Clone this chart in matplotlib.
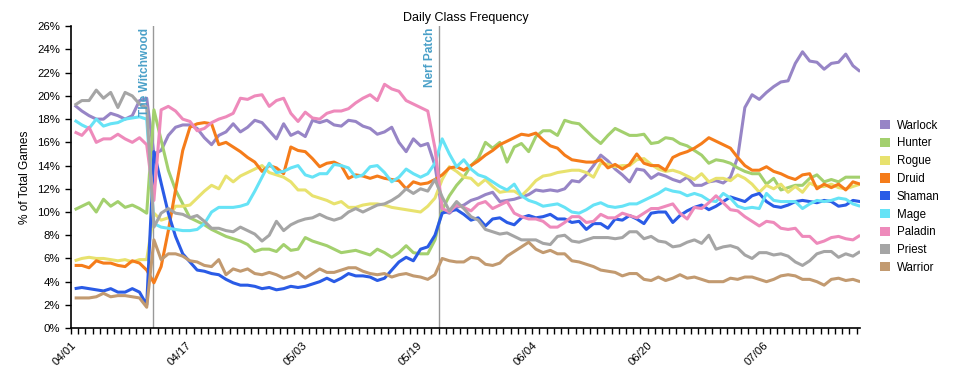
import numpy as np
import pandas as pd
import matplotlib
matplotlib.use("Agg")
import matplotlib.pyplot as plt
from matplotlib.ticker import FuncFormatter
from matplotlib.patches import Patch

plt.rcParams['font.family'] = ['Liberation Sans', 'DejaVu Sans']

# one value per day, plotted at noon
dates = pd.date_range('2018-04-01 12:00', periods=110, freq='D')

warlock = [19.2, 18.7, 18.3, 18.0, 18.0, 18.5, 18.3, 18.0, 18.3, 19.6, 19.8,
           15.0, 15.3, 16.6, 17.3, 17.5, 17.5, 17.2, 16.4, 15.8, 16.6,
           16.9, 17.6, 16.9, 17.3, 17.9, 17.7, 17.0, 16.3, 17.6, 16.6,
           16.9, 16.5, 17.9, 17.7, 17.9, 17.5, 17.4, 17.9, 17.8, 17.4,
           17.2, 16.7, 16.9, 17.3, 16.0, 15.2, 16.3, 15.7, 15.9, 14.0,
           10.1, 9.9, 10.4, 10.6, 11.0, 11.2, 11.5, 11.7, 10.9, 11.0,
           11.1, 11.3, 11.5, 11.9, 11.8, 11.9, 11.8, 12.0, 12.7, 12.6,
           13.2, 14.0, 14.9, 14.4, 13.7, 13.2, 12.6, 13.7, 13.6, 12.9,
           13.3, 13.1, 12.8, 12.6, 13.0, 12.3, 12.3, 12.6, 12.7, 12.5,
           13.0, 14.7, 19.0, 20.1, 19.7, 20.3, 20.8, 21.2, 21.3, 22.8,
           23.8, 23.0, 22.9, 22.3, 22.8, 22.9, 23.6, 22.6, 22.1]
hunter = [10.2, 10.5, 10.8, 10.0, 11.1, 10.5, 10.9, 10.4, 10.6, 10.3, 9.9,
          18.8, 16.2, 13.6, 11.9, 10.7, 9.5, 9.2, 8.9, 8.5, 8.2,
          7.9, 7.7, 7.5, 7.2, 6.6, 6.8, 6.8, 6.6, 7.2, 6.7,
          6.8, 7.8, 7.5, 7.3, 7.1, 6.8, 6.5, 6.6, 6.7, 6.5,
          6.3, 6.8, 6.5, 6.1, 6.5, 7.1, 6.5, 6.4, 6.4, 7.6,
          10.2, 11.4, 12.3, 13.0, 14.0, 14.6, 16.0, 15.5, 16.0, 14.3,
          15.6, 15.9, 15.2, 16.5, 17.0, 17.0, 16.6, 17.9, 17.7, 17.6,
          17.0, 16.4, 15.9, 16.6, 17.2, 16.9, 16.6, 16.6, 16.7, 15.9,
          16.0, 16.4, 16.3, 15.9, 15.7, 15.3, 14.9, 14.2, 14.5, 14.4,
          14.2, 13.8, 13.5, 13.3, 13.3, 12.4, 12.9, 11.9, 12.1, 12.3,
          12.3, 12.9, 13.2, 12.6, 12.8, 12.6, 13.0, 13.0, 13.0]
rogue = [5.8, 6.0, 6.1, 6.0, 6.0, 5.9, 5.8, 5.9, 5.7, 5.9, 5.9,
         9.9, 9.3, 9.5, 10.5, 10.5, 10.6, 11.2, 11.8, 12.3, 12.0,
         13.1, 12.6, 13.1, 13.4, 13.7, 14.0, 13.4, 13.2, 13.0, 12.6,
         11.9, 11.9, 11.4, 11.2, 11.0, 10.7, 10.9, 10.4, 10.4, 10.6,
         10.7, 10.7, 10.6, 10.4, 10.3, 10.2, 10.1, 10.0, 10.5, 11.2,
         12.8, 13.9, 13.5, 13.0, 12.9, 12.3, 12.8, 12.2, 11.7, 11.8,
         11.8, 11.4, 12.0, 12.7, 13.1, 13.2, 13.4, 13.5, 13.6, 13.6,
         13.4, 13.0, 14.2, 14.1, 13.9, 14.0, 14.0, 14.5, 14.6, 14.1,
         13.7, 13.5, 13.6, 13.4, 13.1, 12.8, 13.3, 12.6, 12.9, 12.9,
         12.7, 13.2, 12.9, 12.4, 11.7, 12.3, 12.0, 12.4, 11.7, 12.2,
         11.7, 12.5, 12.2, 12.2, 12.4, 12.1, 12.0, 12.2, 12.4]
druid = [5.4, 5.4, 5.2, 5.8, 5.6, 5.6, 5.4, 5.3, 5.8, 5.6, 5.0,
         3.9, 5.3, 8.4, 11.9, 15.3, 17.3, 17.6, 17.7, 17.6, 15.8,
         16.0, 15.6, 15.2, 14.7, 14.3, 13.5, 14.0, 13.8, 13.3, 15.6,
         15.3, 15.2, 14.6, 13.9, 14.2, 14.3, 14.0, 12.9, 13.2, 13.1,
         12.9, 13.1, 12.9, 12.8, 12.7, 12.0, 12.6, 12.4, 12.5, 12.8,
         13.2, 13.8, 13.9, 13.6, 14.0, 14.4, 14.9, 15.3, 15.8, 16.1,
         16.4, 16.7, 16.6, 16.8, 16.2, 15.7, 15.5, 14.9, 14.5, 14.4,
         14.3, 14.3, 14.5, 13.8, 14.1, 13.7, 14.1, 15.0, 14.2, 14.0,
         14.0, 13.6, 14.7, 15.0, 15.2, 15.5, 15.9, 16.4, 16.1, 15.8,
         15.5, 14.7, 14.0, 13.6, 13.6, 13.9, 13.5, 13.3, 13.0, 12.8,
         13.2, 13.3, 12.0, 12.4, 12.1, 12.4, 11.9, 12.6, 12.4]
shaman = [3.4, 3.5, 3.4, 3.3, 3.2, 3.4, 3.1, 3.1, 3.4, 3.1, 2.0,
          15.2, 12.5, 9.9, 7.9, 6.4, 5.7, 5.0, 4.9, 4.7, 4.6,
          4.2, 3.9, 3.7, 3.7, 3.6, 3.4, 3.5, 3.3, 3.4, 3.6,
          3.5, 3.6, 3.8, 4.0, 4.3, 4.0, 4.3, 4.7, 4.5, 4.5,
          4.4, 4.1, 4.3, 5.0, 5.7, 6.1, 5.8, 6.8, 7.0, 8.0,
          9.9, 10.1, 10.2, 9.8, 9.3, 9.5, 8.8, 9.4, 9.5, 9.1,
          8.9, 9.5, 9.7, 9.5, 9.6, 9.8, 9.4, 9.4, 9.1, 9.2,
          8.5, 9.0, 9.0, 8.6, 9.4, 9.3, 9.7, 9.4, 9.0, 9.9,
          10.0, 10.0, 9.1, 9.7, 10.1, 10.4, 10.6, 10.2, 10.5, 10.9,
          11.3, 11.1, 10.9, 11.4, 11.6, 10.9, 10.5, 10.4, 10.6, 10.9,
          11.0, 10.9, 10.8, 11.0, 10.9, 10.5, 10.6, 11.0, 10.9]
mage = [17.9, 17.5, 17.2, 18.0, 17.4, 17.6, 17.7, 18.0, 18.1, 18.2, 18.0,
        9.0, 8.7, 8.6, 8.5, 8.4, 8.4, 8.5, 9.0, 10.0, 10.4,
        10.4, 10.4, 10.5, 10.7, 11.8, 13.0, 14.2, 13.4, 13.5, 13.8,
        14.0, 13.2, 13.0, 13.3, 13.3, 14.1, 14.0, 13.8, 13.0, 13.2,
        13.9, 14.0, 13.4, 12.6, 13.0, 13.7, 13.3, 13.0, 13.3, 14.2,
        16.3, 15.0, 13.9, 14.5, 13.7, 13.2, 13.0, 12.6, 12.2, 11.9,
        12.4, 11.4, 11.0, 10.8, 10.5, 10.6, 10.7, 10.4, 10.0, 9.9,
        10.2, 10.6, 10.8, 10.5, 10.4, 10.5, 10.7, 10.7, 11.0, 11.3,
        11.6, 12.0, 11.8, 11.7, 11.4, 11.6, 11.4, 11.0, 10.9, 11.6,
        11.2, 10.5, 10.3, 10.4, 10.3, 11.6, 11.0, 10.9, 10.9, 10.9,
        10.3, 10.7, 11.0, 10.9, 11.0, 11.2, 11.1, 10.7, 10.5]
paladin = [16.9, 16.6, 17.3, 16.0, 16.3, 16.3, 16.7, 16.3, 16.0, 16.4, 15.8,
           11.0, 18.8, 19.1, 18.7, 18.0, 17.8, 17.0, 17.2, 17.7, 18.0,
           18.2, 18.5, 19.8, 19.7, 20.0, 20.1, 19.1, 19.6, 19.8, 18.5,
           17.8, 18.6, 18.1, 18.0, 18.5, 18.7, 18.7, 18.9, 19.4, 19.8,
           20.1, 19.6, 21.0, 20.6, 20.4, 19.6, 19.3, 19.0, 18.7, 15.5,
           10.3, 10.0, 10.6, 10.4, 10.1, 10.7, 10.9, 10.3, 10.6, 10.9,
           9.9, 9.6, 9.4, 9.4, 9.2, 8.7, 8.7, 9.1, 9.6, 9.6,
           9.1, 9.2, 9.8, 9.5, 9.5, 9.9, 9.7, 9.5, 9.9, 10.3,
           10.3, 10.5, 10.7, 9.9, 9.4, 10.4, 10.3, 10.8, 11.4, 10.8,
           10.2, 10.1, 9.6, 9.2, 8.8, 9.2, 9.1, 8.6, 8.5, 8.6,
           7.9, 7.9, 7.3, 7.5, 7.8, 7.9, 7.7, 7.6, 8.0]
priest = [19.2, 19.6, 19.6, 20.5, 19.8, 20.3, 19.0, 20.3, 20.0, 19.3, 19.0,
          8.7, 9.9, 10.3, 9.9, 9.8, 9.5, 9.7, 9.2, 8.6, 8.6,
          8.4, 8.3, 8.7, 8.4, 8.1, 7.5, 8.0, 9.2, 8.4, 8.9,
          9.2, 9.4, 9.5, 9.8, 9.5, 9.3, 9.5, 10.0, 10.3, 10.0,
          10.3, 10.6, 10.7, 11.0, 11.4, 12.0, 11.6, 12.0, 11.8, 12.8,
          11.3, 10.1, 10.9, 10.3, 9.6, 9.3, 8.5, 8.3, 8.1, 8.2,
          7.9, 7.6, 7.6, 7.6, 7.3, 7.2, 7.9, 8.0, 7.5, 7.4,
          7.6, 7.8, 7.8, 7.8, 7.7, 7.8, 8.3, 8.3, 7.7, 7.9,
          7.5, 7.4, 7.0, 7.1, 7.4, 7.6, 7.3, 8.0, 6.8, 7.0,
          7.1, 6.9, 6.3, 6.0, 6.5, 6.5, 6.3, 6.4, 6.2, 5.7,
          5.4, 5.8, 6.4, 6.6, 6.6, 6.1, 6.4, 6.2, 6.6]
warrior = [2.6, 2.6, 2.6, 2.7, 3.0, 2.7, 2.8, 2.8, 2.7, 2.6, 1.8,
           7.6, 5.9, 6.4, 6.4, 6.2, 5.8, 5.7, 5.4, 5.3, 5.9,
           4.6, 5.1, 4.9, 5.1, 4.7, 4.6, 4.8, 4.6, 4.3, 4.5,
           4.8, 4.3, 4.7, 5.1, 4.8, 4.8, 5.0, 5.2, 5.2, 4.9,
           4.7, 4.6, 4.7, 4.4, 4.6, 4.7, 4.5, 4.4, 4.2, 4.6,
           6.0, 5.8, 5.7, 5.7, 6.1, 6.0, 5.5, 5.4, 5.6, 6.2,
           6.6, 7.0, 7.4, 6.8, 6.5, 6.7, 6.4, 6.4, 5.8, 5.7,
           5.5, 5.3, 5.0, 4.9, 4.8, 4.5, 4.7, 4.7, 4.2, 4.1,
           4.4, 4.1, 4.3, 4.6, 4.3, 4.4, 4.2, 4.0, 4.0, 4.0,
           4.3, 4.2, 4.4, 4.4, 4.2, 4.0, 4.2, 4.5, 4.6, 4.5,
           4.2, 4.2, 4.0, 3.7, 4.2, 4.3, 4.1, 4.2, 4.0]

classes = ['Warlock', 'Hunter', 'Rogue', 'Druid', 'Shaman',
           'Mage', 'Paladin', 'Priest', 'Warrior']
series = [warlock, hunter, rogue, druid, shaman, mage, paladin, priest, warrior]
colors = ['#9785c6', '#a3d06e', '#e8e26e', '#f57c1a', '#2a5be6',
          '#66e3f6', '#ee8abb', '#a5a5a5', '#c29a70']

events = ['The Witchwood', 'Nerf Patch']
event_times = ['2018-04-12 10:00', '2018-05-22 00:00']

start = pd.Timestamp('2018-04-01')
tick_days = pd.date_range(start, '2018-07-19', freq='D')

fig = plt.figure(figsize=(9.6, 3.75), dpi=100)
ax = fig.add_axes([0.074, 0.125, 0.822, 0.805])

for name, vals, col in zip(classes, series, colors):
    ax.plot(dates, vals, color=col, lw=2.2, solid_joinstyle='round',
            solid_capstyle='butt', label=name)

for label, t in zip(events, event_times):
    x = pd.Timestamp(t)
    ax.axvline(x, color='#999999', lw=1, zorder=0)
    ax.text(x - pd.Timedelta(hours=8), 25.85, label, rotation=90,
            ha='right', va='top', color='#4aa0c8', fontsize=8.6,
            fontweight='bold')

ax.set_xlim(start, dates[-1])
ax.set_ylim(0, 26)
ax.set_yticks(np.arange(0, 27, 2))
ax.yaxis.set_major_formatter(FuncFormatter(lambda v, p: f'{v:.0f}%'))
major = tick_days[::16]
ax.set_xticks(major)
ax.set_xticklabels([d.strftime('%m/%d') for d in major],
                   rotation=45, ha='right', rotation_mode='anchor')
ax.set_xticks(tick_days, minor=True)
ax.tick_params(axis='both', which='both', length=4.5, width=1,
               labelsize=8.2, color='black')
ax.tick_params(axis='x', which='major', pad=4)

for side in ['top', 'right']:
    ax.spines[side].set_visible(False)
ax.spines['left'].set_linewidth(1.2)
ax.spines['bottom'].set_linewidth(1.2)

ax.set_ylabel('% of Total Games', fontsize=8.6)
ax.set_title('Daily Class Frequency', fontsize=9, pad=4)

handles = [Patch(facecolor=c, edgecolor='none') for c in colors]
fig.legend(handles, classes, loc='upper left', bbox_to_anchor=(0.912, 0.693),
           frameon=False, fontsize=8.3, handlelength=0.85, handleheight=0.85,
           handletextpad=0.6, labelspacing=0.5, borderaxespad=0)

fig.savefig('out.png', dpi=100)
